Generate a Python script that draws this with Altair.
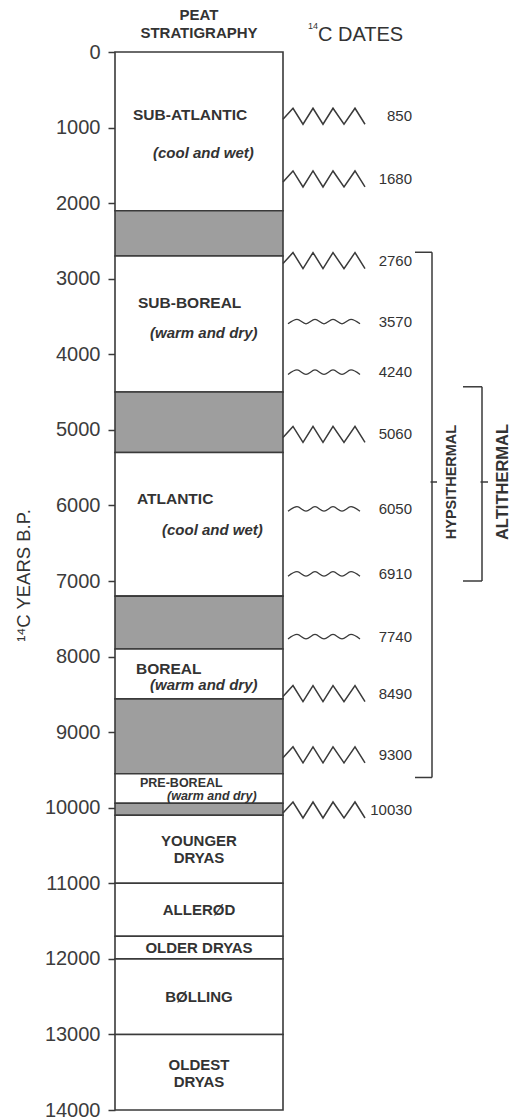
import altair as alt
import pandas as pd

# ---------------------------------------------------------------------------
# Peat column: layer boundaries (14C years B.P.) and layer type
layer_top = [0, 2100, 2700, 4500, 5300, 7200, 7900, 8560, 9550, 9940,
             10100, 11000, 11700, 12000, 13000]
layer_bottom = [2100, 2700, 4500, 5300, 7200, 7900, 8560, 9550, 9940, 10100,
                11000, 11700, 12000, 13000, 14000]
layer_type = ["peat", "humified", "peat", "humified", "peat", "humified",
              "peat", "humified", "peat", "humified",
              "peat", "peat", "peat", "peat", "peat"]

# Radiocarbon dates on the contacts (sharp and gradual contacts)
dates_sharp = [850, 1680, 2760, 5060, 8490, 9300, 10030]
dates_gradual = [3570, 4240, 6050, 6910, 7740]

# Holocene zones with climate notes
zone_names = ["SUB-ATLANTIC", "SUB-BOREAL", "ATLANTIC", "BOREAL"]
zone_name_y = [830, 3320, 5910, 8160]
zone_climate = ["(cool and wet)", "(warm and dry)", "(cool and wet)", "(warm and dry)"]
zone_climate_y = [1340, 3720, 6330, 8380]

preboreal_name = ["PRE-BOREAL"]
preboreal_name_y = [9670]
preboreal_climate = ["(warm and dry)"]
preboreal_climate_y = [9840]

# Late-glacial zones (one entry per text line)
lateglacial_lines = ["YOUNGER", "DRYAS", "ALLERØD", "OLDER DRYAS", "BØLLING", "OLDEST", "DRYAS"]
lateglacial_y = [10441, 10666, 11354, 11857, 12505, 13405, 13630]

# Warm-period brackets
periods = ["HYPSITHERMAL", "ALTITHERMAL"]
period_start = [2650, 4430]
period_end = [9600, 7000]
period_mark = [5690, 5690]

tick_values = list(range(0, 14001, 1000))

# ---------------------------------------------------------------------------
# Layout (horizontal units = pixels of the plot area)
W, H = 396, 1058
Y_MAX = 14000
YRS_PER_PX = Y_MAX / H
COL_L, COL_R = 0, 168
COL_MID = (COL_L + COL_R) / 2
DATE_LABEL_X = 297
DATES_HEAD_X = 203
BRACKET_X = [317, 367]
BRACKET_ARM = [300, 348]
BRACKET_TICK = [322, 373]
PERIOD_LABEL_X = [337, 388]
PERIOD_SIZE = [14.5, 16.5]

FONT = "Liberation Sans"
INK = "#3a3a3a"
TEXT = "#333333"

xs = alt.Scale(domain=[0, W], nice=False, zero=False)
ys = alt.Scale(domain=[0, Y_MAX], reverse=True, nice=False, zero=False)

# The age axis is declared once, on the column layer
age_axis = alt.Axis(
    values=tick_values, format="d", grid=False, domain=False,
    tickSize=7, tickWidth=1.5, tickColor=INK,
    labelFont=FONT, labelFontSize=20, labelFontWeight="normal", labelColor="#3c3c3c",
    labelPadding=8, labelFlush=False, labelOverlap=False,
    title="¹⁴C YEARS B.P.", titleFont=FONT, titleFontSize=18.5,
    titleFontWeight="normal", titleColor=TEXT, titleAngle=270,
    titleAlign="center", titleBaseline="middle", titleX=-92, titleY=523)


def X(field):
    return alt.X(field, type="quantitative", scale=xs, axis=None)


def Y(field):
    return alt.Y(field, type="quantitative", scale=ys)


# Column of peat layers
col_df = pd.DataFrame({"top": layer_top, "bottom": layer_bottom, "kind": layer_type,
                       "x0": COL_L, "x1": COL_R})
column = alt.Chart(col_df).mark_rect(stroke=INK, strokeWidth=1.6).encode(
    x=X("x0"), x2="x1",
    y=alt.Y("top:Q", scale=ys, axis=age_axis), y2="bottom",
    fill=alt.Fill("kind:N", legend=None,
                  scale=alt.Scale(domain=["peat", "humified"], range=["#ffffff", "#9e9e9e"])),
)

# Contact symbols: sharp zigzag and gradual wave, centred on each date
ZIG = [(0, 3), (10, -8), (20, 8), (30, -8), (40, 8), (50, -8), (61, 8), (72, -8), (82, 8)]
WAVE = [(5, 2), (14, -2.5), (23, 2), (32, -2.5), (41, 2), (50, -2.5), (59, 2), (68, -2.5), (77, 2)]


def glyph_rows(dates, shape):
    rows = []
    for d in dates:
        for i, (dx, dy) in enumerate(shape):
            rows.append({"date": d, "seq": i, "gx": COL_R + dx, "gy": d + dy * YRS_PER_PX})
    return pd.DataFrame(rows)


sharp = alt.Chart(glyph_rows(dates_sharp, ZIG)).mark_line(
    color=INK, strokeWidth=1.5, interpolate="linear", strokeJoin="miter").encode(
    x=X("gx"), y=Y("gy"), detail="date:N", order="seq:Q")

gradual = alt.Chart(glyph_rows(dates_gradual, WAVE)).mark_line(
    color=INK, strokeWidth=1.3, interpolate="monotone").encode(
    x=X("gx"), y=Y("gy"), detail="date:N", order="seq:Q")

date_df = pd.DataFrame({"date": dates_sharp + dates_gradual})
date_df["lx"] = DATE_LABEL_X
date_labels = alt.Chart(date_df).mark_text(
    align="right", baseline="middle", font=FONT, fontSize=15, color=TEXT).encode(
    x=X("lx"), y=Y("date"), text=alt.Text("date:Q", format="d"))

# Zone labels
zone_df = pd.DataFrame({"t": zone_names, "y": zone_name_y, "x": [18, 23, 22, 21]})
zone_text = alt.Chart(zone_df).mark_text(
    align="left", baseline="middle", font=FONT, fontSize=15.5, fontWeight="bold",
    color=TEXT).encode(x=X("x"), y=Y("y"), text="t:N")

clim_df = pd.DataFrame({"t": zone_climate, "y": zone_climate_y, "x": [38, 35, 47, 35]})
clim_text = alt.Chart(clim_df).mark_text(
    align="left", baseline="middle", font=FONT, fontSize=15, fontWeight="bold",
    fontStyle="italic", color=TEXT).encode(x=X("x"), y=Y("y"), text="t:N")

pre_name_df = pd.DataFrame({"t": preboreal_name, "y": preboreal_name_y, "x": [25]})
pre_name = alt.Chart(pre_name_df).mark_text(
    align="left", baseline="middle", font=FONT, fontSize=12.5, fontWeight="bold",
    color=TEXT).encode(x=X("x"), y=Y("y"), text="t:N")

pre_clim_df = pd.DataFrame({"t": preboreal_climate, "y": preboreal_climate_y, "x": [52]})
pre_clim = alt.Chart(pre_clim_df).mark_text(
    align="left", baseline="middle", font=FONT, fontSize=12.5, fontWeight="bold",
    fontStyle="italic", color=TEXT).encode(x=X("x"), y=Y("y"), text="t:N")

lg_df = pd.DataFrame({"t": lateglacial_lines, "y": lateglacial_y})
lg_df["x"] = COL_MID
lg_text = alt.Chart(lg_df).mark_text(
    align="center", baseline="middle", font=FONT, fontSize=15, fontWeight="bold",
    color=TEXT).encode(x=X("x"), y=Y("y"), text="t:N")

# Column headings, placed above the age zero line
head_df = pd.DataFrame({"t": ["PEAT", "STRATIGRAPHY"], "y": [-483, -251]})
head_df["x"] = COL_MID
heads = alt.Chart(head_df).mark_text(
    align="center", baseline="middle", font=FONT, fontSize=15, fontWeight="bold",
    color=TEXT).encode(x=X("x"), y=Y("y"), text="t:N")

dates_head_df = pd.DataFrame({"t": ["C DATES"], "y": [-225], "x": [DATES_HEAD_X]})
dates_head = alt.Chart(dates_head_df).mark_text(
    align="left", baseline="middle", font=FONT, fontSize=20, color=TEXT).encode(
    x=X("x"), y=Y("y"), text="t:N")

dates_sup_df = pd.DataFrame({"t": ["14"], "y": [-350], "x": [DATES_HEAD_X]})
dates_sup = alt.Chart(dates_sup_df).mark_text(
    align="right", baseline="middle", font=FONT, fontSize=9, color=TEXT).encode(
    x=X("x"), y=Y("y"), text="t:N")

# Brackets for the warm periods
seg_rows = []
lab_rows = []
for i, name in enumerate(periods):
    a, b, m = period_start[i], period_end[i], period_mark[i]
    xb, xa, xt = BRACKET_X[i], BRACKET_ARM[i], BRACKET_TICK[i]
    seg_rows += [
        {"x": xb, "x2": xb, "y": a, "y2": b},
        {"x": xa, "x2": xb, "y": a, "y2": a},
        {"x": xa, "x2": xb, "y": b, "y2": b},
        {"x": xb - 1.5, "x2": xt, "y": m, "y2": m},
    ]
    lab_rows.append({"t": name, "x": PERIOD_LABEL_X[i], "y": m, "size": PERIOD_SIZE[i]})

brackets = alt.Chart(pd.DataFrame(seg_rows)).mark_rule(color=INK, strokeWidth=1.5).encode(
    x=X("x"), x2="x2", y=Y("y"), y2="y2")

period_text = alt.Chart(pd.DataFrame(lab_rows)).mark_text(
    align="center", baseline="middle", font=FONT, fontWeight="bold", angle=270,
    color=TEXT).encode(x=X("x"), y=Y("y"), text="t:N",
                       size=alt.Size("size:Q", scale=None, legend=None))

chart = alt.layer(
    column, sharp, gradual, date_labels, zone_text, clim_text, pre_name, pre_clim,
    lg_text, heads, dates_head, dates_sup, brackets, period_text,
).resolve_axis(y="shared").properties(
    width=W, height=H,
    padding={"left": 115, "top": 52, "right": 0, "bottom": 9},
    autosize=alt.AutoSizeParams(type="none"),
    background="white",
).configure_view(stroke=None)

chart.save("out.html", embed_options={"renderer": "svg", "actions": False})
